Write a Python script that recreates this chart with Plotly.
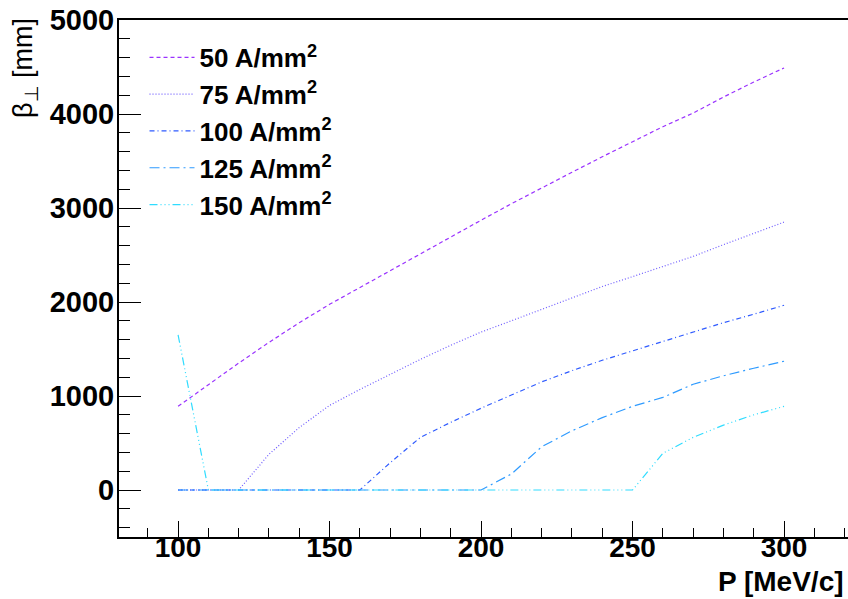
import plotly.graph_objects as go

# Momentum grid [MeV/c]
momentum = [100, 110, 120, 130, 140, 150, 160, 170, 180, 190, 200,
            210, 220, 230, 240, 250, 260, 270, 280, 290, 300]

# Transverse beta function [mm] for each coil current density
beta_50 = [890, 1120, 1350, 1570, 1780, 1975, 2155, 2330, 2510, 2690, 2870,
           3045, 3215, 3380, 3545, 3705, 3865, 4010, 4180, 4340, 4490]
beta_75 = [0, 0, 0, 380, 665, 900, 1070, 1230, 1390, 1540, 1680,
           1800, 1920, 2040, 2165, 2270, 2380, 2485, 2610, 2730, 2850]
beta_100 = [0, 0, 0, 0, 0, 0, 0, 290, 560, 720, 870,
            1010, 1150, 1270, 1380, 1480, 1580, 1680, 1780, 1870, 1965]
beta_125 = [0, 0, 0, 0, 0, 0, 0, 0, 0, 0, 0,
            170, 460, 630, 770, 890, 985, 1125, 1215, 1295, 1370]
beta_150 = [1650, 0, 0, 0, 0, 0, 0, 0, 0, 0, 0,
            0, 0, 0, 0, 0, 390, 560, 690, 800, 890]

labels = ["50 A/mm<sup>2</sup>", "75 A/mm<sup>2</sup>", "100 A/mm<sup>2</sup>",
          "125 A/mm<sup>2</sup>", "150 A/mm<sup>2</sup>"]
series = [beta_50, beta_75, beta_100, beta_125, beta_150]
colors = ["#9a33ff", "#6f5cff", "#2f5bff", "#2f9bff", "#30dcff"]
dashes = ["4px,3px", "1px,2px", "5px,3px,1px,3px", "10px,4px,2px,4px",
          "8px,3px,1px,3px,1px,3px,1px,3px"]

fig = go.Figure()
for i, (lab, vals, col, dsh) in enumerate(zip(labels, series, colors, dashes)):
    fig.add_trace(go.Scatter(
        x=momentum, y=vals, mode="lines", name=lab,
        legendgroup=f"g{i}",
        line=dict(color=col, width=1.2, dash=dsh),
    ))

font_family = "Liberation Sans, Arial, sans-serif"

fig.update_layout(
    width=848, height=599,
    margin=dict(l=119, r=0, t=20, b=62),
    paper_bgcolor="white", plot_bgcolor="white",
    showlegend=True,
    legend=dict(
        x=0.035, y=0.973, xanchor="left", yanchor="top",
        bgcolor="rgba(0,0,0,0)",
        font=dict(family=font_family, size=26, color="black", weight="bold"),
        tracegroupgap=0, itemwidth=45,
    ),
    xaxis=dict(
        range=[80.5, 321.1],
        showgrid=False, zeroline=False,
        showline=True, linecolor="black", linewidth=2, mirror=True,
        ticks="inside", ticklen=16, tickwidth=1.2, tickcolor="black",
        tick0=100, dtick=50,
        minor=dict(ticks="inside", ticklen=9, tickwidth=1.2, tickcolor="black",
                   tick0=100, dtick=10),
        tickfont=dict(family=font_family, size=28, color="black", weight="bold"),
        ticklabelstandoff=-16,
    ),
    yaxis=dict(
        range=[-500, 5000],
        showgrid=False, zeroline=False,
        showline=True, linecolor="black", linewidth=2, mirror=False,
        ticks="inside", ticklen=22, tickwidth=1.2, tickcolor="black",
        tick0=0, dtick=1000,
        minor=dict(ticks="inside", ticklen=11, tickwidth=1.2, tickcolor="black",
                   tick0=0, dtick=200),
        tickfont=dict(family=font_family, size=29, color="black", weight="bold"),
        ticklabelstandoff=-3,
    ),
    annotations=[
        dict(text="P [MeV/c]", xref="paper", yref="paper",
             x=1, y=0, xanchor="right", yanchor="middle", yshift=-44, xshift=-3,
             showarrow=False, borderpad=0,
             font=dict(family=font_family, size=28, color="black", weight="bold")),
        dict(text="β<sub>⊥</sub> [mm]", xref="paper", yref="paper",
             x=-0.129, y=1, xanchor="center", yanchor="top", yshift=4,
             textangle=-90, showarrow=False,
             font=dict(family=font_family, size=27, color="black")),
    ],
)

fig.write_html("out.html")
